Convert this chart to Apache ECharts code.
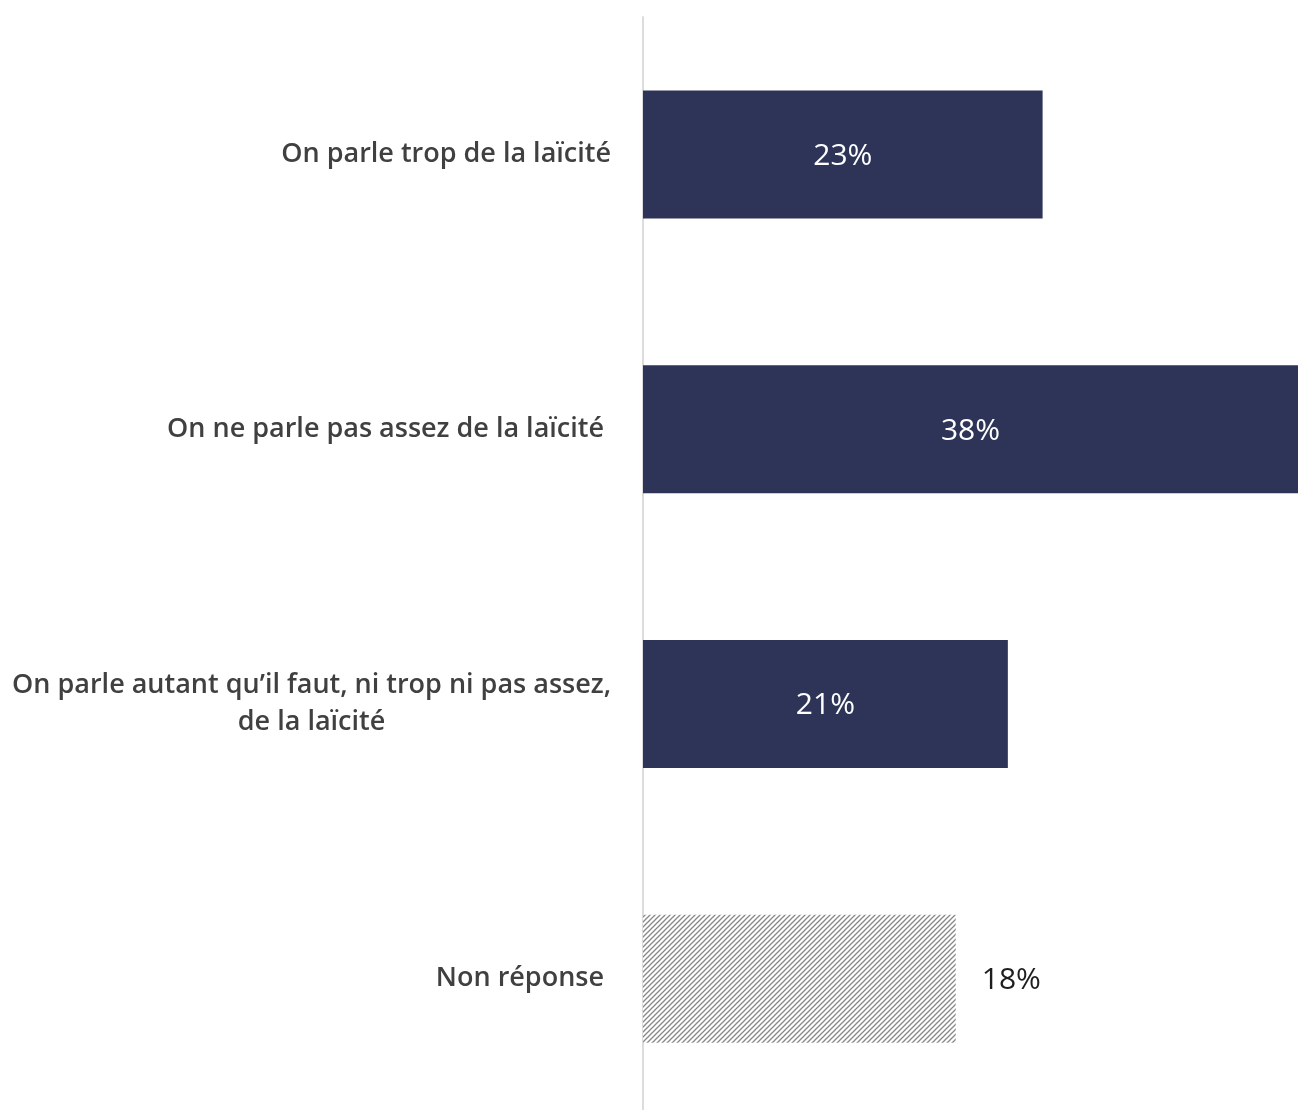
<!DOCTYPE html>
<html><head><meta charset="utf-8">
<script src="https://cdn.jsdelivr.net/npm/echarts@6/dist/echarts.min.js"></script>
<style>html,body{margin:0;padding:0;background:#fff}#c{width:1298px;height:1110px}</style>
</head><body><div id="c"></div>
<script>
const categories = ["On parle trop de la laïcité", "On ne parle pas assez de la laïcité", "On parle autant qu’il faut, ni trop ni pas assez,\nde la laïcité", "Non réponse"];
const values = [23, 38, 21, 18];
const hatchedIndex = 3;

function makeHatch() {
  const s = 5;
  const c = document.createElement('canvas');
  c.width = s; c.height = s;
  const g = c.getContext('2d');
  g.fillStyle = '#ffffff'; g.fillRect(0,0,s,s);
  g.strokeStyle = '#888888'; g.lineWidth = 1.3;
  for (let k = -1; k <= 1; k++) {
    g.beginPath();
    g.moveTo(k*s - 1, s + 1);
    g.lineTo(k*s + s + 1, -1);
    g.stroke();
  }
  return c;
}
const hatch = makeHatch();

const FONT = 'Open Sans';
const shifted = [1, 3];
const chart = echarts.init(document.getElementById('c'));
chart.setOption({
  animation: false,
  grid: { left: 643, top: 17, right: 0, height: 1099, outerBoundsMode: 'none', containLabel: false },
  xAxis: { type: 'value', min: 0, max: 37.7, show: false },
  yAxis: {
    type: 'category', inverse: true, data: categories,
    axisLine: { show: true, lineStyle: { color: '#dcdcdc', width: 2 } },
    axisTick: { show: false },
    axisLabel: {
      margin: 32, fontFamily: FONT, fontSize: 27, fontWeight: 600, color: '#404040', lineHeight: 37,
      formatter: (v, i) => {
        const st = shifted.indexOf(i) >= 0 ? 'b' : 'a';
        return v.split('\n').map(l => '{' + st + '|' + l + '}').join('\n');
      },
      rich: {
        a: { align: 'center', fontFamily: FONT, fontSize: 27, fontWeight: 600, color: '#404040', lineHeight: 37 },
        b: { align: 'center', fontFamily: FONT, fontSize: 27, fontWeight: 600, color: '#404040', lineHeight: 37, padding: [0, 7, 0, 0] }
      }
    }
  },
  series: [{
    type: 'bar', barWidth: 128,
    data: values.map((v, i) => i === hatchedIndex ? {
      value: v,
      itemStyle: { color: { image: hatch, repeat: 'repeat' } },
      label: { position: 'right', distance: 26, color: '#1e1e1e' }
    } : { value: v }),
    itemStyle: { color: '#2E3457' },
    label: { show: true, position: 'inside', formatter: '{c}%', color: '#ffffff', fontFamily: FONT, fontSize: 30, offset: [0, 2] }
  }]
});
</script></body></html>
